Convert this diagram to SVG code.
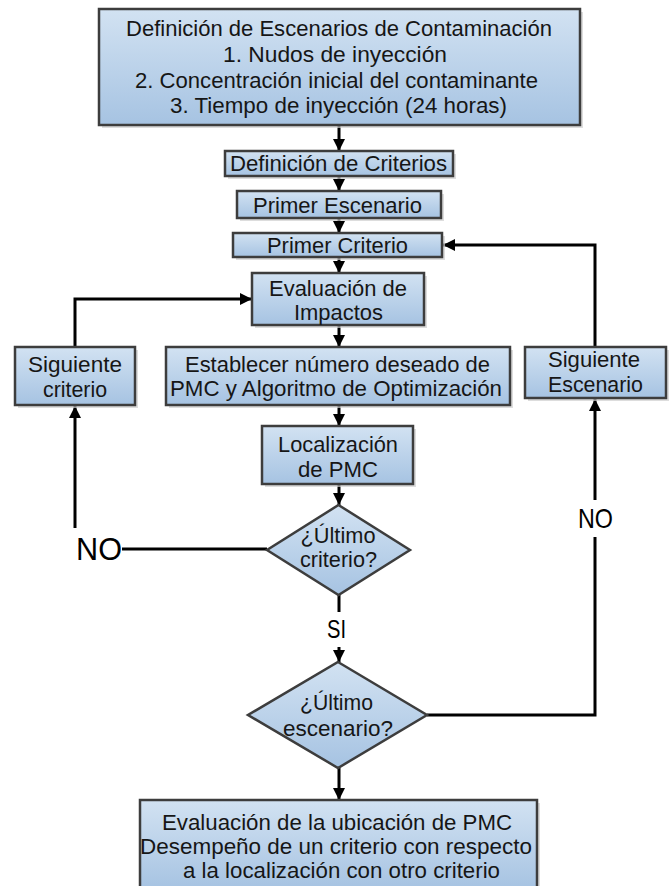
<svg xmlns="http://www.w3.org/2000/svg" width="672" height="886" viewBox="0 0 672 886">
<defs>
<linearGradient id="g" x1="0" y1="0" x2="0" y2="1">
<stop offset="0" stop-color="#d2e2f2"/>
<stop offset="1" stop-color="#a6c3e2"/>
</linearGradient>
<marker id="ah" markerUnits="userSpaceOnUse" markerWidth="14" markerHeight="12" refX="12" refY="6" orient="auto">
<path d="M0,0 L12,6 L0,12 z" fill="#000"/>
</marker>
</defs>
<style>
.box{fill:url(#g);stroke:#3d3d3d;stroke-width:2.5}
.sh{fill:#cfcfcf;opacity:0.7}
.t{font-family:"Liberation Sans",Arial,sans-serif;font-size:22px;fill:#161616;text-anchor:middle}
.c{fill:none;stroke:#000;stroke-width:3}
.a{marker-end:url(#ah)}
.lab{font-family:"Liberation Sans",Arial,sans-serif;fill:#000;text-anchor:middle}
</style>
<rect width="672" height="886" fill="#fff"/>

<g id="connectors">
<line class="c a" x1="339" y1="126" x2="339" y2="151"/>
<line class="c a" x1="339" y1="177" x2="339" y2="191"/>
<line class="c a" x1="339" y1="219" x2="339" y2="233"/>
<line class="c a" x1="339" y1="258" x2="339" y2="273"/>
<line class="c a" x1="339" y1="326" x2="339" y2="347"/>
<line class="c a" x1="339" y1="406" x2="339" y2="426"/>
<line class="c a" x1="339" y1="485" x2="339" y2="505"/>
<line class="c" x1="339" y1="595" x2="339" y2="612"/>
<line class="c a" x1="339" y1="647" x2="339" y2="662"/>
<line class="c a" x1="339" y1="768" x2="339" y2="800"/>
<line class="c" x1="267" y1="549" x2="122" y2="549"/>
<line class="c a" x1="75" y1="528" x2="75" y2="406"/>
<polyline class="c a" points="75,347 75,299 252,299"/>
<polyline class="c" points="427,715 595,715 595,537"/>
<line class="c a" x1="595" y1="500" x2="595" y2="399"/>
<polyline class="c a" points="595,347 595,245 443,245"/>
<text class="lab" x="99" y="560" font-size="31" textLength="46" lengthAdjust="spacingAndGlyphs">NO</text>
<text class="lab" x="336.5" y="638" font-size="25" textLength="19" lengthAdjust="spacingAndGlyphs">SI</text>
<text class="lab" x="595.5" y="528" font-size="28" textLength="35" lengthAdjust="spacingAndGlyphs">NO</text>
</g>

<g id="n_escenarios">
<rect class="sh" x="102" y="12" width="481" height="116"/>
<rect class="box" x="99" y="9" width="481" height="116"/>
<text class="t" x="339" y="36" textLength="426" lengthAdjust="spacingAndGlyphs">Definición de Escenarios de Contaminación</text>
<text class="t" x="335" y="62" textLength="224" lengthAdjust="spacingAndGlyphs">1. Nudos de inyección</text>
<text class="t" x="336.5" y="88" textLength="403" lengthAdjust="spacingAndGlyphs">2. Concentración inicial del contaminante</text>
<text class="t" x="338.5" y="113" textLength="337" lengthAdjust="spacingAndGlyphs">3. Tiempo de inyección (24 horas)</text>
</g>

<g id="n_criterios">
<rect class="sh" x="228" y="154" width="228" height="25"/>
<rect class="box" x="225" y="151" width="228" height="25"/>
<text class="t" x="338.5" y="171" font-size="23" textLength="217" lengthAdjust="spacingAndGlyphs">Definición de Criterios</text>
</g>

<g id="n_primer_escenario">
<rect class="sh" x="240" y="194" width="204" height="27"/>
<rect class="box" x="237" y="191" width="204" height="27"/>
<text class="t" x="337.5" y="213" font-size="23" textLength="169" lengthAdjust="spacingAndGlyphs">Primer Escenario</text>
</g>

<g id="n_primer_criterio">
<rect class="sh" x="236" y="236" width="209" height="24"/>
<rect class="box" x="233" y="233" width="209" height="24"/>
<text class="t" x="337.5" y="253" font-size="23" textLength="141" lengthAdjust="spacingAndGlyphs">Primer Criterio</text>
</g>

<g id="n_evaluacion">
<rect class="sh" x="255" y="276" width="172" height="52"/>
<rect class="box" x="252" y="273" width="172" height="52"/>
<text class="t" x="338" y="296" font-size="21" textLength="138" lengthAdjust="spacingAndGlyphs">Evaluación de</text>
<text class="t" x="338.5" y="320" font-size="21" textLength="89" lengthAdjust="spacingAndGlyphs">Impactos</text>
</g>

<g id="n_sig_criterio">
<rect class="sh" x="18" y="350" width="120" height="58"/>
<rect class="box" x="15" y="347" width="120" height="58"/>
<text class="t" x="75" y="372" textLength="94" lengthAdjust="spacingAndGlyphs">Siguiente</text>
<text class="t" x="75" y="397" textLength="64" lengthAdjust="spacingAndGlyphs">criterio</text>
</g>

<g id="n_establecer">
<rect class="sh" x="169" y="350" width="344" height="58"/>
<rect class="box" x="166" y="347" width="344" height="58"/>
<text class="t" x="337.5" y="372" textLength="305" lengthAdjust="spacingAndGlyphs">Establecer número deseado de</text>
<text class="t" x="336" y="396" textLength="332" lengthAdjust="spacingAndGlyphs">PMC y Algoritmo de Optimización</text>
</g>

<g id="n_sig_escenario">
<rect class="sh" x="528" y="350" width="141" height="51"/>
<rect class="box" x="525" y="347" width="141" height="51"/>
<text class="t" x="594" y="367" textLength="92" lengthAdjust="spacingAndGlyphs">Siguiente</text>
<text class="t" x="595.5" y="392" textLength="95" lengthAdjust="spacingAndGlyphs">Escenario</text>
</g>

<g id="n_localizacion">
<rect class="sh" x="265" y="429" width="151" height="58"/>
<rect class="box" x="262" y="426" width="151" height="58"/>
<text class="t" x="338" y="452" textLength="120" lengthAdjust="spacingAndGlyphs">Localización</text>
<text class="t" x="338" y="477" textLength="80" lengthAdjust="spacingAndGlyphs">de PMC</text>
</g>

<g id="n_ultimo_criterio">
<polygon class="box" points="338.5,505 410,550 338.5,595 267,550"/>
<text class="t" x="338" y="543" textLength="75" lengthAdjust="spacingAndGlyphs">¿Último</text>
<text class="t" x="338.5" y="567" textLength="77" lengthAdjust="spacingAndGlyphs">criterio?</text>
</g>

<g id="n_ultimo_escenario">
<polygon class="box" points="338,662 427,715 338,768 248,715"/>
<text class="t" x="336.5" y="710" textLength="73" lengthAdjust="spacingAndGlyphs">¿Último</text>
<text class="t" x="338" y="736" textLength="110" lengthAdjust="spacingAndGlyphs">escenario?</text>
</g>

<g id="n_final">
<rect class="sh" x="143" y="803" width="397" height="90"/>
<rect class="box" x="140" y="800" width="397" height="90"/>
<text class="t" x="337" y="830" textLength="350" lengthAdjust="spacingAndGlyphs">Evaluación de la ubicación de PMC</text>
<text class="t" x="336" y="854" textLength="392" lengthAdjust="spacingAndGlyphs">Desempeño de un criterio con respecto</text>
<text class="t" x="341.5" y="878" textLength="317" lengthAdjust="spacingAndGlyphs">a la localización con otro criterio</text>
</g>
</svg>
